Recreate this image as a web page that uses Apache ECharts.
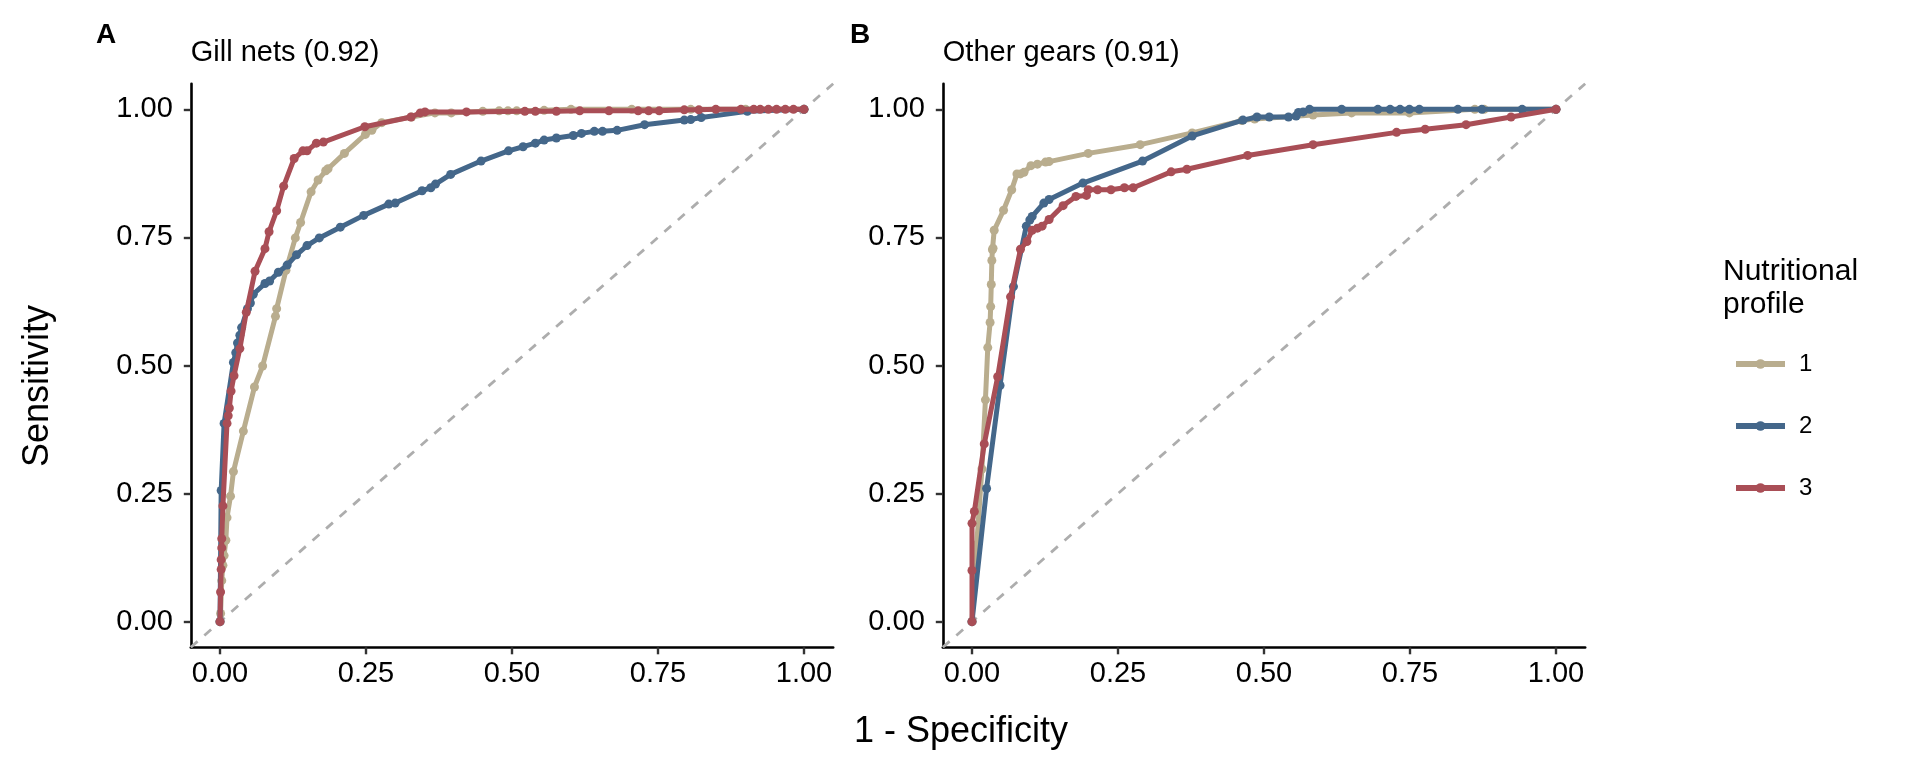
<!DOCTYPE html>
<html><head><meta charset="utf-8">
<script src="https://cdn.jsdelivr.net/npm/echarts@6/dist/echarts.min.js"></script>
<style>html,body{margin:0;padding:0;background:#fff}#c{width:1920px;height:768px}</style>
</head><body><div id="c"></div><script>
// ---------- data ----------
const panelTitles = ['Gill nets (0.92)', 'Other gears (0.91)'];
const panelTags = ['A', 'B'];
const profiles = ['1', '2', '3'];
const tickValues = [0, 0.25, 0.5, 0.75, 1];
const tickLabels = ['0.00', '0.25', '0.50', '0.75', '1.00'];
const xTitle = '1 - Specificity';
const yTitle = 'Sensitivity';
const legendTitle = 'Nutritional\nprofile';

// Panel A: Gill nets  [1 - specificity, sensitivity]
const gill_p1 = [[0,0],[0.001,0.016],[0.003,0.08],[0.005,0.11],[0.007,0.129],[0.01,0.159],[0.012,0.203],[0.018,0.245],[0.023,0.293],[0.04,0.372],[0.059,0.458],[0.073,0.499],[0.095,0.596],[0.097,0.611],[0.113,0.686],[0.129,0.749],[0.138,0.779],[0.156,0.839],[0.168,0.862],[0.181,0.88],[0.185,0.884],[0.213,0.914],[0.249,0.951],[0.26,0.959],[0.277,0.974],[0.328,0.985],[0.368,0.993],[0.396,0.993],[0.45,0.996],[0.478,0.997],[0.493,0.997],[0.508,0.997],[0.555,0.998],[0.601,1],[0.705,1],[0.806,1],[0.9,1],[1,1]];
const gill_p2 = [[0,0],[0.002,0.256],[0.007,0.387],[0.023,0.506],[0.027,0.525],[0.03,0.544],[0.034,0.559],[0.037,0.574],[0.047,0.611],[0.052,0.622],[0.057,0.639],[0.077,0.66],[0.085,0.665],[0.1,0.682],[0.115,0.696],[0.131,0.716],[0.149,0.734],[0.17,0.749],[0.206,0.77],[0.246,0.793],[0.289,0.815],[0.3,0.817],[0.346,0.841],[0.361,0.847],[0.369,0.854],[0.395,0.873],[0.447,0.899],[0.494,0.919],[0.519,0.927],[0.54,0.934],[0.555,0.94],[0.576,0.944],[0.605,0.949],[0.619,0.953],[0.641,0.957],[0.655,0.957],[0.68,0.959],[0.727,0.97],[0.795,0.979],[0.806,0.98],[0.824,0.984],[0.903,0.996],[1,1]];
const gill_p3 = [[0,0],[0.001,0.058],[0.002,0.102],[0.002,0.121],[0.003,0.144],[0.003,0.162],[0.005,0.226],[0.012,0.387],[0.014,0.402],[0.016,0.417],[0.019,0.45],[0.024,0.48],[0.034,0.533],[0.045,0.604],[0.06,0.684],[0.077,0.728],[0.084,0.761],[0.097,0.802],[0.109,0.85],[0.127,0.904],[0.142,0.919],[0.149,0.919],[0.165,0.934],[0.177,0.936],[0.248,0.966],[0.327,0.985],[0.343,0.993],[0.351,0.995],[0.422,0.995],[0.522,0.996],[0.54,0.996],[0.576,0.996],[0.616,0.997],[0.666,0.997],[0.716,0.997],[0.734,0.997],[0.752,0.997],[0.795,0.999],[0.82,0.999],[0.849,1],[0.892,1],[0.914,1],[0.925,1],[0.939,1],[0.953,1],[0.968,1],[0.982,1],[1,1]];

// Panel B: Other gears
const other_p1 = [[0,0],[0.008,0.15],[0.017,0.298],[0.023,0.433],[0.027,0.535],[0.031,0.584],[0.032,0.615],[0.033,0.658],[0.034,0.705],[0.035,0.726],[0.036,0.729],[0.038,0.764],[0.054,0.803],[0.068,0.843],[0.077,0.874],[0.083,0.874],[0.089,0.877],[0.101,0.89],[0.112,0.893],[0.126,0.897],[0.132,0.898],[0.199,0.914],[0.288,0.931],[0.377,0.954],[0.462,0.978],[0.484,0.981],[0.584,0.989],[0.65,0.993],[0.749,0.993],[0.861,1],[0.877,1],[1,1]];
const other_p2 = [[0,0],[0.025,0.26],[0.048,0.461],[0.071,0.654],[0.093,0.772],[0.099,0.784],[0.103,0.791],[0.123,0.817],[0.132,0.824],[0.19,0.856],[0.292,0.899],[0.377,0.948],[0.464,0.979],[0.488,0.985],[0.509,0.985],[0.542,0.985],[0.555,0.987],[0.559,0.994],[0.567,0.995],[0.578,1],[0.633,1],[0.695,1],[0.716,1],[0.733,1],[0.749,1],[0.766,1],[0.832,1],[0.873,1],[0.942,1],[1,1]];
const other_p3 = [[0,0],[0,0.1],[0,0.192],[0.004,0.215],[0.021,0.347],[0.044,0.478],[0.066,0.634],[0.083,0.727],[0.094,0.742],[0.103,0.764],[0.112,0.768],[0.12,0.772],[0.132,0.785],[0.156,0.812],[0.178,0.83],[0.196,0.832],[0.199,0.843],[0.215,0.843],[0.238,0.843],[0.261,0.847],[0.276,0.847],[0.341,0.878],[0.368,0.883],[0.472,0.91],[0.584,0.931],[0.727,0.955],[0.776,0.961],[0.846,0.97],[0.923,0.985],[1,1]];

const diagonal = [[-0.05,-0.05],[1.05,1.05]];

// ---------- styling ----------
const colors = ['#B9AD8E', '#44678A', '#A94E56'];
const FONT = '"Liberation Sans", Arial, Helvetica, sans-serif';
const panels = [[gill_p1, gill_p2, gill_p3], [other_p1, other_p2, other_p3]];
const gridLefts = [190.8, 942.8];
const gridTop = 83.7, gridW = 642.4, gridH = 563.6;

const chart = echarts.init(document.getElementById('c'), null, {renderer: 'canvas'});

const grids = [], xAxes = [], yAxes = [], series = [];
panels.forEach((p, i) => {
  grids.push({left: gridLefts[i], top: gridTop, width: gridW, height: gridH, containLabel: false});
  const axisCommon = {
    type: 'value', min: -0.05, max: 1.05, gridIndex: i,
    splitLine: {show: false},
    axisLine: {show: true, onZero: false, lineStyle: {color: '#000', width: 2.6}},
    axisTick: {show: true, inside: false, length: 7, customValues: tickValues, lineStyle: {color: '#333', width: 2.4}},
    axisLabel: {show: true, customValues: tickValues, fontSize: 29, color: '#000', fontFamily: FONT,
      formatter: v => tickLabels[tickValues.indexOf(+v.toFixed(2))] ?? v.toFixed(2)}
  };
  xAxes.push(Object.assign({}, axisCommon, {axisLabel: Object.assign({}, axisCommon.axisLabel, {margin: 12})}));
  yAxes.push(Object.assign({}, axisCommon, {axisLabel: Object.assign({}, axisCommon.axisLabel, {margin: 18})}));
  series.push({
    type: 'line', xAxisIndex: i, yAxisIndex: i, data: diagonal, silent: true, symbol: 'none',
    lineStyle: {color: '#ADADAD', width: 2.8, type: [9, 9]}, z: 1
  });
  p.forEach((d, k) => {
    series.push({
      name: profiles[k], type: 'line', xAxisIndex: i, yAxisIndex: i, data: d,
      symbol: 'circle', symbolSize: 9, showSymbol: true, animation: false,
      lineStyle: {color: colors[k], width: 5}, itemStyle: {color: colors[k]}, z: 2 + k
    });
  });
});

const graphics = [];
panels.forEach((p, i) => {
  graphics.push({type: 'text', left: [96, 850][i], top: 21, style: {text: panelTags[i], font: 'bold 28px ' + FONT, fill: '#000'}});
  graphics.push({type: 'text', left: gridLefts[i], top: 38, style: {text: panelTitles[i], font: '29px ' + FONT, fill: '#000'}});
});
graphics.push({type: 'text', x: 961, y: 732, style: {text: xTitle, font: '36px ' + FONT, fill: '#000', align: 'center', verticalAlign: 'middle'}});
graphics.push({type: 'text', x: 38, y: 386, rotation: Math.PI / 2, style: {text: yTitle, font: '36px ' + FONT, fill: '#000', align: 'center', verticalAlign: 'middle'}});
graphics.push({type: 'text', x: 1723, y: 255, style: {text: legendTitle, font: '30px ' + FONT, fill: '#000', lineHeight: 33, verticalAlign: 'top'}});

chart.setOption({
  animation: false,
  backgroundColor: '#fff',
  grid: grids, xAxis: xAxes, yAxis: yAxes, series: series,
  legend: {
    data: profiles, orient: 'vertical', left: 1728, top: 347, itemWidth: 49, itemHeight: 12, itemGap: 38,
    lineStyle: {width: 6},
    textStyle: {fontSize: 24, fontFamily: FONT, color: '#000', padding: [0, 0, 0, 9]},
    selectedMode: false
  },
  graphic: graphics
});
</script></body></html>
